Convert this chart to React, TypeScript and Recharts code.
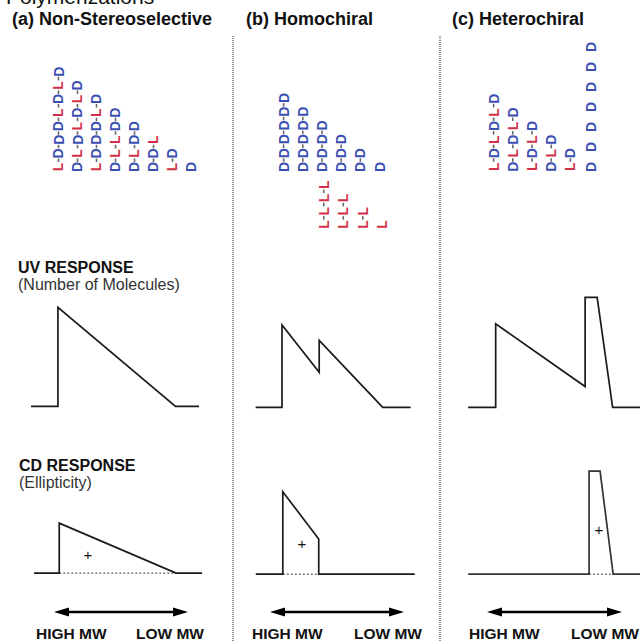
import { ComposedChart, Line, Scatter, ScatterChart, XAxis, YAxis } from "recharts";

const FONT = "'Liberation Sans', Arial, sans-serif";

const panelTitles = ["(a) Non-Stereoselective", "(b) Homochiral", "(c) Heterochiral"];
const mwLabels = ["HIGH MW", "LOW MW"];

// chains read bottom -> top, one string per column
const chainsA = ["LDDDLDLD", "DLDLDLD", "LDDDLD", "DLLDD", "DLDD", "DDL", "LD", "D"];
const chainsBD = ["DDDDDD", "DDDDD", "DDDD", "DDD", "DD", "D"];
const chainsBL = ["LLLL", "LLL", "LL", "L"];
const chainsC = ["LDLDLD", "DLDLD", "LDLD", "DLD", "LD"];
const monomersC = ["DDDDDDD"];

// x = elution position (0..100 across the trace), y = relative response
const uvA = [
  { x: 0, y: 0 }, { x: 16, y: 0 }, { x: 16, y: 90 }, { x: 86, y: 0 }, { x: 100, y: 0 },
];
const uvB = [
  { x: 0, y: 0 }, { x: 17, y: 0 }, { x: 17, y: 75 }, { x: 41, y: 32 },
  { x: 41, y: 61 }, { x: 82, y: 0 }, { x: 100, y: 0 },
];
const uvC = [
  { x: 0, y: 0 }, { x: 16, y: 0 }, { x: 16, y: 76 }, { x: 68, y: 19 },
  { x: 68, y: 100 }, { x: 75, y: 100 }, { x: 84, y: 0 }, { x: 100, y: 0 },
];

const cdA = [
  { x: 0, y: 0 }, { x: 15, y: 0 }, { x: 15, y: 48.5 }, { x: 84.5, y: 0 }, { x: 100, y: 0 },
];
const cdABase = [{ x: 15, y: 0 }, { x: 84.5, y: 0 }];
const cdB = [
  { x: 0, y: 0 }, { x: 17, y: 0 }, { x: 17, y: 80 }, { x: 39.6, y: 34 },
  { x: 39.6, y: 0 }, { x: 100, y: 0 },
];
const cdBBase = [{ x: 17, y: 0 }, { x: 39.6, y: 0 }];
const cdC = [
  { x: 0, y: 0 }, { x: 70.3, y: 0 }, { x: 70.3, y: 100 }, { x: 76.7, y: 100 },
  { x: 84.3, y: 0 }, { x: 100, y: 0 },
];
const cdCBase = [{ x: 70.3, y: 0 }, { x: 84.3, y: 0 }];
const signA = [{ x: 32, y: 18 }];
const signB = [{ x: 29, y: 30 }];
const signC = [{ x: 76, y: 43 }];

function Monomer(props: any) {
  const { cx, cy, payload, dy } = props;
  const color = payload.unit === "D" ? "#3b4fb2" : "#d2304a";
  return (
    <g>
      {payload.linked ? (
        <line
          stroke="#6a6a6a"
          strokeWidth={1.6}
          x1={cx}
          x2={cx}
          y1={cy + dy / 2 - 1.8}
          y2={cy + dy / 2 + 1.8}
        />
      ) : null}
      <text
        dominantBaseline="central"
        fill={color}
        fontFamily={FONT}
        fontSize={14}
        fontWeight="bold"
        textAnchor="middle"
        transform={`rotate(-90 ${cx} ${cy})`}
        x={cx}
        y={cy}
      >
        {payload.unit}
      </text>
    </g>
  );
}

interface ChainProps {
  chains: string[];
  x0: number;
  y0: number;
  dx: number;
  dy: number;
  linked?: boolean;
}

function Chains({ chains, x0, y0, dx, dy, linked = true }: ChainProps) {
  const points = chains.flatMap((s, col) =>
    s.split("").map((unit, pos) => ({ col, pos, unit, linked: linked && pos > 0 })),
  );
  const ncol = chains.length;
  const nrow = Math.max(...chains.map((c) => c.length));
  return (
    <div style={{ position: "absolute", left: x0 - dx / 2, top: y0 - (nrow - 0.5) * dy }}>
      <ScatterChart height={nrow * dy} margin={{ top: 0, right: 0, bottom: 0, left: 0 }} width={ncol * dx}>
        <XAxis dataKey="col" domain={[-0.5, ncol - 0.5]} hide type="number" />
        <YAxis dataKey="pos" domain={[-0.5, nrow - 0.5]} hide type="number" />
        <Scatter
          data={points}
          isAnimationActive={false}
          shape={(p: any) => <Monomer {...p} dy={dy} />}
        />
      </ScatterChart>
    </div>
  );
}

interface TraceProps {
  data: { x: number; y: number }[];
  base?: { x: number; y: number }[];
  sign?: { x: number; y: number }[];
  x0: number;
  x1: number;
  baseline: number;
  k: number;
  stroke?: string;
}

function Trace({ data, base, sign, x0, x1, baseline, k, stroke = "#1a1a1a" }: TraceProps) {
  const span = x1 - x0;
  return (
    <div style={{ position: "absolute", left: x0 - 0.03 * span, top: baseline - 104 * k }}>
      <ComposedChart height={108 * k} margin={{ top: 0, right: 0, bottom: 0, left: 0 }} width={span * 1.06}>
        <XAxis dataKey="x" domain={[-3, 103]} hide type="number" />
        <YAxis dataKey="y" domain={[-4, 104]} hide type="number" />
        {base ? (
          <Line
            data={base}
            dataKey="y"
            dot={false}
            isAnimationActive={false}
            stroke="#333"
            strokeDasharray="2 2"
            strokeWidth={1}
            type="linear"
          />
        ) : null}
        <Line
          data={data}
          dataKey="y"
          dot={false}
          isAnimationActive={false}
          stroke={stroke}
          strokeWidth={1.7}
          type="linear"
        />
        {sign ? (
          <Scatter
            data={sign}
            isAnimationActive={false}
            shape={(p: any) => (
              <text
                dominantBaseline="central"
                fill="#111"
                fontFamily={FONT}
                fontSize={15}
                textAnchor="middle"
                x={p.cx}
                y={p.cy}
              >
                +
              </text>
            )}
          />
        ) : null}
      </ComposedChart>
    </div>
  );
}

function Arrow({ x1, x2, y }: { x1: number; x2: number; y: number }) {
  return (
    <g fill="#000" stroke="none">
      <line stroke="#000" strokeWidth={2.5} x1={x1 + 8} x2={x2 - 8} y1={y} y2={y} />
      <polygon points={`${x1},${y} ${x1 + 15},${y - 4.5} ${x1 + 15},${y + 4.5}`} />
      <polygon points={`${x2},${y} ${x2 - 15},${y - 4.5} ${x2 - 15},${y + 4.5}`} />
    </g>
  );
}

const titleX = [12, 246, 452];
const mwPos = [
  [36, 204],
  [252, 422],
  [469, 639],
];
const arrowPos = [
  [54, 188],
  [270, 404],
  [487, 622],
];

export default function App() {
  return (
    <div
      style={{
        position: "relative",
        width: 640,
        height: 642,
        overflow: "hidden",
        background: "#fff",
      }}
    >
      <style>{"html,body{margin:0;padding:0;overflow:hidden}"}</style>
      <svg height={642} style={{ position: "absolute", left: 0, top: 0 }} width={640}>
        <text fill="#111" fontFamily={FONT} fontSize={21} x={6} y={4}>
          Polymerizations
        </text>
        {panelTitles.map((t, i) => (
          <text fill="#111" fontFamily={FONT} fontSize={18} fontWeight="bold" key={t} x={titleX[i]} y={25}>
            {t}
          </text>
        ))}
        {[233, 440].map((x) => (
          <line key={x} stroke="#555" strokeDasharray="1 1" strokeWidth={1.3} x1={x} x2={x} y1={36} y2={642} />
        ))}
        <text fill="#111" fontFamily={FONT} fontSize={16} fontWeight="bold" x={18} y={273}>
          UV RESPONSE
        </text>
        <text fill="#333" fontFamily={FONT} fontSize={16} x={18} y={290}>
          (Number of Molecules)
        </text>
        <text fill="#111" fontFamily={FONT} fontSize={16} fontWeight="bold" x={19} y={471}>
          CD RESPONSE
        </text>
        <text fill="#333" fontFamily={FONT} fontSize={16} x={19} y={488}>
          (Ellipticity)
        </text>
        {arrowPos.map(([a, b]) => (
          <Arrow key={a} x1={a} x2={b} y={612} />
        ))}
        {mwPos.map(([a, b]) => (
          <g fill="#111" fontFamily={FONT} fontSize={15.5} fontWeight="bold" key={a}>
            <text x={a} y={639}>
              {mwLabels[0]}
            </text>
            <text textAnchor="end" x={b} y={639}>
              {mwLabels[1]}
            </text>
          </g>
        ))}
      </svg>

      <Chains chains={chainsA} dx={19} dy={13.6} x0={58} y0={167} />
      <Chains chains={chainsBD} dx={19.2} dy={13.8} x0={284} y0={167} />
      <Chains chains={chainsBL} dx={19.5} dy={13.3} x0={324} y0={225} />
      <Chains chains={chainsC} dx={19.2} dy={13.6} x0={494} y0={167} />
      <Chains chains={monomersC} dx={19} dy={20} linked={false} x0={590} y0={167} />

      <Trace baseline={406} data={uvA} k={1.1} x0={31} x1={199} />
      <Trace baseline={407} data={uvB} k={1.1} x0={256} x1={411} />
      <Trace baseline={407} data={uvC} k={1.1} x0={468} x1={640} />

      <Trace base={cdABase} baseline={573} data={cdA} k={1.03} sign={signA} x0={34} x1={202} />
      <Trace base={cdBBase} baseline={574} data={cdB} k={1.03} sign={signB} x0={256} x1={415} />
      <Trace base={cdCBase} baseline={574} data={cdC} k={1.03} sign={signC} stroke="#333" x0={468} x1={640} />
    </div>
  );
}
